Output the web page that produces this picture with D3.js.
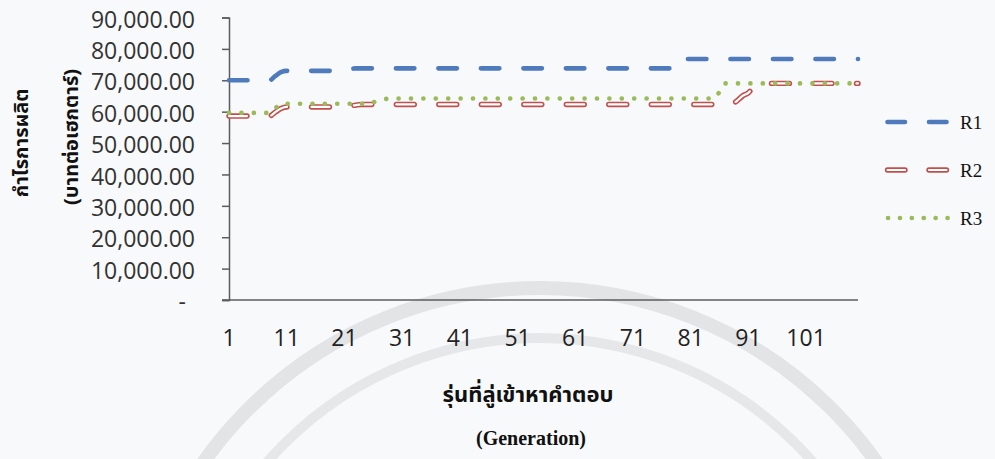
<!DOCTYPE html>
<html>
<head>
<meta charset="utf-8">
<script src="https://cdn.jsdelivr.net/npm/d3@7"></script>
<style>
  html, body { margin: 0; padding: 0; background: #f8f9fb; }
  svg { display: block; }
</style>
</head>
<body>
<svg id="chart" width="995" height="459"></svg>
<script>
// Profit per hectare for three runs over the generations of the search
const generations = d3.range(1, 111);

const R1 = [
  70000, 70000, 70000, 70000, 70000, 70000, 70000, 70000, 71300, 72600,
  73000, 73000, 73000, 73000, 73000, 73000, 73000, 73000, 73000, 73000,
  73000, 73500, 73800, 73800, 73800, 73800, 73800, 73800, 73800, 73800,
  73800, 73800, 73800, 73800, 73800, 73800, 73800, 73800, 73800, 73800,
  73800, 73800, 73800, 73800, 73800, 73800, 73800, 73800, 73800, 73800,
  73800, 73800, 73800, 73800, 73800, 73800, 73800, 73800, 73800, 73800,
  73800, 73800, 73800, 73800, 73800, 73800, 73800, 73800, 73800, 73800,
  73800, 73800, 73800, 73800, 73800, 73800, 73800, 73800, 73800, 76800,
  76800, 76800, 76800, 76800, 76800, 76800, 76800, 76800, 76800, 76800,
  76800, 76800, 76800, 76800, 76800, 76800, 76800, 76800, 76800, 76800,
  76800, 76800, 76800, 76800, 76800, 76800, 76800, 76800, 76800, 76800
];

const R2 = [
  58600, 58600, 58600, 58600, 58600, 58600, 58600, 58600, 59800, 61000,
  61500, 61500, 61500, 61500, 61500, 61500, 61500, 61500, 61500, 61500,
  61500, 61800, 62100, 62300, 62300, 62300, 62300, 62300, 62300, 62300,
  62300, 62300, 62300, 62300, 62300, 62300, 62300, 62300, 62300, 62300,
  62300, 62300, 62300, 62300, 62300, 62300, 62300, 62300, 62300, 62300,
  62300, 62300, 62300, 62300, 62300, 62300, 62300, 62300, 62300, 62300,
  62300, 62300, 62300, 62300, 62300, 62300, 62300, 62300, 62300, 62300,
  62300, 62300, 62300, 62300, 62300, 62300, 62300, 62300, 62300, 62300,
  62300, 62300, 62300, 62300, 62300, 62300, 62300, 62300, 63400, 65000,
  66000, 68000, 69000, 69000, 69000, 69000, 69000, 69000, 69000, 69000,
  69000, 69000, 69000, 69000, 69000, 69000, 69000, 69000, 69000, 69000
];

const R3 = [
  59600, 59600, 59600, 59600, 59600, 59600, 59600, 59600, 61000, 62500,
  62500, 62500, 62500, 62500, 62500, 62500, 62500, 62500, 62500, 62500,
  62500, 62500, 62500, 62500, 62500, 63000, 63500, 64000, 64200, 64200,
  64200, 64200, 64200, 64200, 64200, 64200, 64200, 64200, 64200, 64200,
  64200, 64200, 64200, 64200, 64200, 64200, 64200, 64200, 64200, 64200,
  64200, 64200, 64200, 64200, 64200, 64200, 64200, 64200, 64200, 64200,
  64200, 64200, 64200, 64200, 64200, 64200, 64200, 64200, 64200, 64200,
  64200, 64200, 64200, 64200, 64200, 64200, 64200, 64200, 64200, 64200,
  64200, 64200, 64200, 64200, 64200, 66300, 69000, 69000, 69000, 69000,
  69000, 69000, 69000, 69000, 69000, 69000, 69000, 69000, 69000, 69000,
  69000, 69000, 69000, 69000, 69000, 69000, 69000, 69000, 69000, 69000
];

const seriesNames = ["R1", "R2", "R3"];
const xTickLabels = [1, 11, 21, 31, 41, 51, 61, 71, 81, 91, 101];
const yTickValues = [0, 10000, 20000, 30000, 40000, 50000, 60000, 70000, 80000, 90000];

const svg = d3.select("#chart");
const W = 995, H = 459;

svg.append("rect").attr("width", W).attr("height", H).attr("fill", "#f8f9fb");

// faint seal printed behind the lower part of the page
const seal = svg.append("g").attr("fill", "none");
seal.append("circle").attr("cx", 540).attr("cy", 700).attr("r", 412)
  .attr("stroke", "#e3e4e6").attr("stroke-width", 14);
seal.append("circle").attr("cx", 540).attr("cy", 700).attr("r", 362)
  .attr("stroke", "#e6e7e9").attr("stroke-width", 10);

const x = d3.scaleLinear().domain([1, 110]).range([229, 858]);
const y = d3.scaleLinear().domain([0, 90000]).range([300, 17.5]);

const axisColor = "#5c5c5c";
const numFont = "'Open Sans', 'Noto Sans', sans-serif";

// y axis
const yAxis = d3.axisLeft(y)
  .tickValues(yTickValues)
  .tickSize(7)
  .tickPadding(27)
  .tickFormat(d => d === 0 ? "-" : d3.format(",.2f")(d));

const gy = svg.append("g").attr("transform", "translate(229,0)").call(yAxis);
gy.select(".domain").attr("stroke", axisColor).attr("stroke-width", 1.5);
gy.selectAll(".tick line").attr("stroke", axisColor).attr("stroke-width", 1.5);
gy.selectAll(".tick text")
  .attr("fill", "#333")
  .attr("font-family", numFont)
  .attr("font-size", 23)
  .attr("dy", "0.42em")
  .filter(d => d === 0).attr("x", -43);

// x axis baseline
svg.append("line")
  .attr("x1", 222).attr("x2", 858).attr("y1", y(0)).attr("y2", y(0))
  .attr("stroke", axisColor).attr("stroke-width", 1.5);

svg.append("g").selectAll("text").data(xTickLabels).join("text")
  .attr("x", d => x(d))
  .attr("y", 346)
  .attr("text-anchor", "middle")
  .attr("fill", "#222")
  .attr("font-family", numFont)
  .attr("font-size", 23)
  .text(d => d);

// series
const line = d3.line()
  .x((d, i) => x(generations[i]))
  .y(d => y(d))
  .curve(d3.curveMonotoneX);

const plot = svg.append("g").attr("fill", "none").attr("stroke-linecap", "round");

plot.append("path").attr("d", line(R1))
  .attr("stroke", "#4f7bbd").attr("stroke-width", 4.6)
  .attr("stroke-dasharray", "18.5,24");

plot.append("path").attr("d", line(R2))
  .attr("stroke", "#c0504d").attr("stroke-width", 5.4)
  .attr("stroke-dasharray", "18,24.5");
plot.append("path").attr("d", line(R2))
  .attr("stroke", "#ffffff").attr("stroke-width", 2.2)
  .attr("stroke-dasharray", "18,24.5");

plot.append("path").attr("d", line(R3))
  .attr("stroke", "#9bbb59").attr("stroke-width", 4.6)
  .attr("stroke-dasharray", "0.1,12.3");

// legend
const legendY = [122, 170, 218];
const lg = svg.append("g").attr("fill", "none").attr("stroke-linecap", "round");
const seg = d3.line();
lg.append("path").attr("d", seg([[887.5, legendY[0]], [947, legendY[0]]]))
  .attr("stroke", "#4f7bbd").attr("stroke-width", 4.6).attr("stroke-dasharray", "17.5,24");
lg.append("path").attr("d", seg([[887.5, legendY[1]], [947, legendY[1]]]))
  .attr("stroke", "#c0504d").attr("stroke-width", 5.4).attr("stroke-dasharray", "17.5,24");
lg.append("path").attr("d", seg([[887.5, legendY[1]], [947, legendY[1]]]))
  .attr("stroke", "#ffffff").attr("stroke-width", 2.2).attr("stroke-dasharray", "17.5,24");
lg.append("path").attr("d", seg([[888, legendY[2]], [948, legendY[2]]]))
  .attr("stroke", "#9bbb59").attr("stroke-width", 4.6).attr("stroke-dasharray", "0.1,11.8");

svg.append("g").selectAll("text").data(seriesNames).join("text")
  .attr("x", 960)
  .attr("y", (d, i) => legendY[i])
  .attr("dy", "0.35em")
  .attr("fill", "#111")
  .attr("font-family", "'Liberation Serif', 'Times New Roman', serif")
  .attr("font-size", 19)
  .text(d => d);

// axis titles
const thaiFont = "'Noto Sans Thai', 'Noto Serif Thai', 'Loma', 'Garuda', 'Tlwg Typo', 'DejaVu Sans', sans-serif";

svg.append("text")
  .attr("transform", "translate(22,143) rotate(-90)")
  .attr("text-anchor", "middle")
  .attr("dominant-baseline", "central")
  .attr("font-family", thaiFont)
  .attr("font-weight", "bold")
  .attr("font-size", 20)
  .attr("fill", "#111")
  .text("กำไรการผลิต");

svg.append("text")
  .attr("transform", "translate(72,137) rotate(-90)")
  .attr("text-anchor", "middle")
  .attr("dominant-baseline", "central")
  .attr("font-family", thaiFont)
  .attr("font-weight", "bold")
  .attr("font-size", 20)
  .attr("fill", "#111")
  .text("(บาทต่อเฮกตาร์)");

svg.append("text")
  .attr("x", 528).attr("y", 402)
  .attr("text-anchor", "middle")
  .attr("font-family", thaiFont)
  .attr("font-weight", "bold")
  .attr("font-size", 22)
  .attr("fill", "#111")
  .text("รุ่นที่ลู่เข้าหาคำตอบ");

svg.append("text")
  .attr("x", 531).attr("y", 445)
  .attr("text-anchor", "middle")
  .attr("font-family", "'Liberation Serif', 'Times New Roman', serif")
  .attr("font-weight", "bold")
  .attr("font-size", 20)
  .attr("fill", "#111")
  .text("(Generation)");
</script>
</body>
</html>
